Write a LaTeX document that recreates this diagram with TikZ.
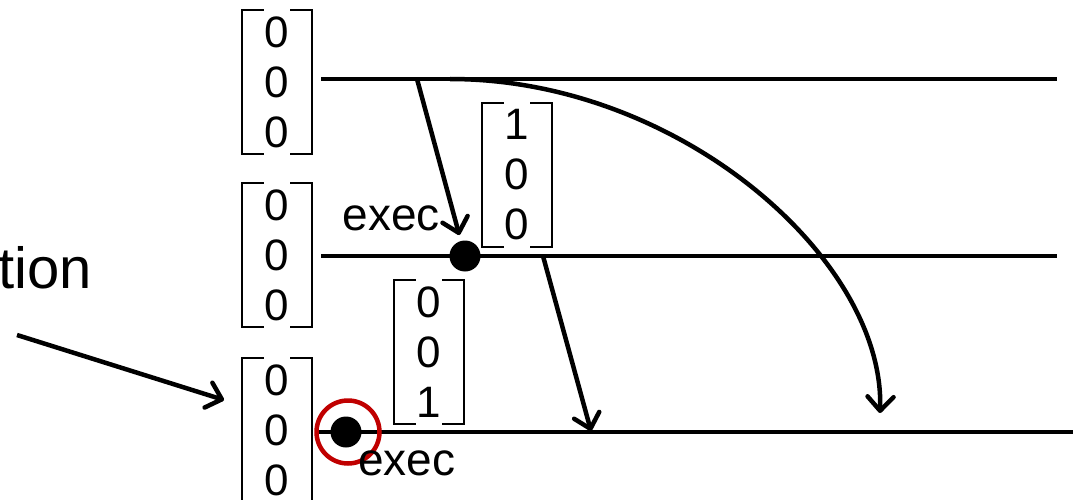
\documentclass[tikz,border=0pt]{standalone}
\usepackage{fontspec}
\setmainfont{Liberation Sans}
\usetikzlibrary{arrows.meta}

% square brackets around a column-vector node
\newcommand\colbrackets[1]{%
  \draw[bracketline] ([xshift=21pt]#1.north west) -| (#1.south west) -- ++(21,0);
  \draw[bracketline] ([xshift=-21pt]#1.north east) -| (#1.south east) -- ++(-21,0);
}

\begin{document}
\begin{tikzpicture}[x=1pt,y=-1pt,
  colvec/.style={minimum width=70pt, minimum height=144pt, inner sep=0pt,
    align=center, font=\fontsize{44}{50}\selectfont},
  bracketline/.style={line width=1.5pt, line cap=rect},
  procline/.style={line width=4.5pt},
  msgarrow/.style={line width=4.5pt, -{Straight Barb[length=14pt,width=26pt,round]}},
  dot/.style={circle, fill=black, inner sep=0pt, minimum size=31pt},
  ring/.style={circle, draw=ringred, line width=4.5pt, inner sep=0pt, minimum size=63pt},
  lbl/.style={font=\fontsize{46}{50}\selectfont, inner sep=0pt},
]
\definecolor{ringred}{RGB}{192,0,0}
\useasboundingbox (0,0) rectangle (1076,500);
\clip (0,0) rectangle (1076,500);

% label at the left edge
\node[font=\fontsize{58}{60}\selectfont, inner sep=0pt, anchor=base east] (lbl0) at (92,288) {tion};
\coordinate (a0) at (17,335);
\coordinate (a1) at (224,400);
\draw[msgarrow] (a0) -- (a1);

% process lines
\coordinate (l1s) at (321,79);  \coordinate (l1e) at (1057,79);
\coordinate (l2s) at (321,256); \coordinate (l2e) at (1057,256);
\coordinate (l3s) at (318,432); \coordinate (l3e) at (1073,432);
\draw[procline] (l1s) -- (l1e);
\draw[procline] (l2s) -- (l2e);
\draw[procline] (l3s) -- (l3e);

% state vectors
\node[colvec] (v1) at (277,82)  {0\\0\\0};
\node[colvec] (v2) at (277,255) {0\\0\\0};
\node[colvec] (v3) at (277,430) {0\\0\\0};
\node[colvec] (v4) at (517,175) {1\\0\\0};
\node[colvec] (v5) at (429,352) {0\\0\\1};
\colbrackets{v1}
\colbrackets{v2}
\colbrackets{v3}
\colbrackets{v4}
\colbrackets{v5}

% events
\node[dot] (d1) at (465,256) {};
\node[dot] (d2) at (346,432) {};
\node[ring] (r2) at (348,432) {};
\node[lbl, anchor=base east] (e1) at (440,230) {exec};
\node[lbl, anchor=base west] (e2) at (358,475) {exec};

% messages
\coordinate (m1) at (417,79);
\coordinate (m2) at (543,256);
\coordinate (m3) at (591,431);
\coordinate (m4) at (450,79);
\coordinate (m5) at (880,413);
\draw[msgarrow, shorten >=6pt] (m1) -- (d1);
\draw[msgarrow] (m2) -- (m3);
\draw[msgarrow] (m4) .. controls (680,79) and (885,260) .. (m5);
\end{tikzpicture}
\end{document}
